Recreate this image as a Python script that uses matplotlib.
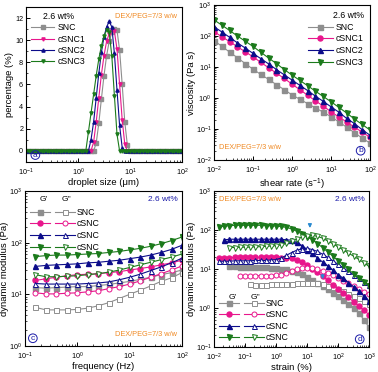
import numpy as np
import matplotlib
matplotlib.use("Agg")
import matplotlib.pyplot as plt

plt.rcParams['font.family'] = ['Liberation Sans', 'DejaVu Sans']
plt.rcParams['font.size'] = 6.5
plt.rcParams['mathtext.default'] = 'regular'

nan = np.nan
GRAY = '#8e8e8e'
PINK = '#e8168c'
NAVY = '#0c0c8a'
GREEN = '#1b7a1b'
ORANGE = '#f08a24'
TXTBLUE = '#1a1aa8'
ARROW = '#2a8ad0'

# ---------------- (a) droplet size distribution ----------------
droplet_size = np.logspace(-1, 2, 61)
pct_SNC = [0.0]*27 + [0.7, 2.5, 4.7, 6.8, 8.6, 9.9, 10.7, 11.0, 10.9, 9.1, 6.0, 2.6, 0.5] + [0.0]*21
pct_cSNC1 = [0.0]*26 + [0.8, 2.6, 4.8, 6.9, 8.6, 9.9, 10.6, 10.9, 10.8, 9.2, 6.0, 2.8, 0.6] + [0.0]*22
pct_cSNC2 = [0.0]*25 + [1.0, 2.6, 4.8, 7.0, 8.9, 10.3, 11.2, 11.7, 11.2, 8.8, 5.5, 2.3, 0.3] + [0.0]*23
pct_cSNC3 = [0.0]*24 + [1.7, 3.4, 5.1, 6.8, 8.3, 9.5, 10.4, 10.9, 10.7, 8.6, 5.0, 1.5] + [0.0]*25

# ---------------- (b) viscosity ----------------
shear_rate = np.logspace(-2, 2, 21)
visc_SNC = [70.8, 46.8, 30.2, 20.0, 12.9, 8.5, 5.75, 3.98, 2.69, 1.86, 1.26, 0.91, 0.66,
            0.48, 0.35, 0.25, 0.17, 0.115, 0.076, 0.051, 0.035]
visc_cSNC1 = [138, 95, 66, 45, 31, 21.4, 14.1, 9.5, 6.3, 4.3, 2.8, 1.86, 1.23, 0.81, 0.55,
              0.36, 0.245, 0.17, 0.115, 0.079, 0.054]
visc_cSNC2 = [200, 135, 91, 60, 41, 27.5, 18.6, 12.6, 8.3, 5.6, 3.8, 2.57, 1.74, 1.15, 0.78,
              0.52, 0.35, 0.22, 0.15, 0.095, 0.063]
visc_cSNC3 = [331, 224, 151, 100, 68, 46, 30, 19.5, 12.9, 8.3, 5.5, 3.7, 2.5, 1.66, 1.12,
              0.76, 0.50, 0.33, 0.21, 0.14, 0.093]

# ---------------- (c) frequency sweep ----------------
frequency = np.logspace(-0.8, 2, 15)
Gp_f_SNC = [13.5, 13.2, 13.5, 13.8, 14.1, 14.1, 14.8, 15.5, 16.6, 17.8, 19.5, 21.4, 24.0, 26.3, 29.5]
Gpp_f_SNC = [5.6, 5.0, 5.0, 5.0, 5.1, 5.4, 6.0, 6.9, 8.3, 10.0, 12.0, 14.5, 17.8, 20.9, 26.3]
Gp_f_cSNC1 = [18.6, 20.0, 21.4, 22.9, 24.0, 24.5, 25.1, 26.3, 27.5, 29.5, 31.6, 33.9, 37.2, 40.7, 45.7]
Gpp_f_cSNC1 = [10.7, 10.2, 10.2, 10.5, 10.7, 11.2, 11.7, 12.9, 14.1, 15.8, 18.2, 21.4, 25.1, 29.5, 35.5]
Gp_f_cSNC2 = [34.7, 36.3, 37.2, 38.0, 38.9, 40.7, 41.7, 43.7, 45.7, 49.0, 52.5, 57.5, 64.6, 74.1, 89.1]
Gpp_f_cSNC2 = [16.2, 15.8, 15.8, 15.8, 15.8, 16.2, 16.6, 17.4, 19.1, 21.4, 24.5, 28.8, 33.9, 40.7, 50.1]
Gp_f_cSNC3 = [53.7, 56.2, 57.5, 57.5, 58.9, 60.3, 61.7, 64.6, 67.6, 72.4, 77.6, 85.1, 95.5, 109.6, 128.8]
Gpp_f_cSNC3 = [24.0, 21.9, 21.9, 22.4, 22.9, 24.0, 25.1, 26.9, 29.5, 33.1, 37.2, 41.7, 46.8, 52.5, 60.3]

# ---------------- (d) strain sweep ----------------
strain = np.logspace(-2, 3, 31)
Gp_s_SNC = [nan]*3 + [12.0, 11.7, 11.5, 11.5, 11.2, 11.2, 11.0, 11.0, 10.7, 10.5, 10.2, 9.8, 9.1, 8.3,
                      7.4, 6.3, 5.2, 4.4, 3.6, 3.0, 2.45, 2.0, 1.62, 1.29, 1.02, 0.76, 0.50, 0.32]
Gpp_s_SNC = [nan]*7 + [4.1, 4.0, 4.0, 4.0, 4.1, 4.1, 4.1, 4.2, 4.2, 4.3, 4.4, 4.5, 4.5, 4.4, 4.1,
                       3.7, 3.4, 3.0, 2.7, 2.3, 2.0, 1.78, 1.51, 1.29]
Gp_s_cSNC1 = [nan] + [19.1, 19.5, 19.5, 20, 20, 20, 20, 20, 20, 20, 20, 20, 19.5, 19.1, 18.6, 17.0,
                      14.8, 12.6, 10.2, 8.3, 6.6, 5.1, 4.0, 3.1, 2.4, 1.86, 1.45, 1.12, 0.87, 0.68]
Gpp_s_cSNC1 = [nan]*5 + [6.6, 6.6, 6.6, 6.6, 6.8, 6.8, 6.8, 6.9, 7.2, 7.9, 8.9, 9.8, 10.5, 10.7,
                         10.5, 9.8, 8.9, 7.9, 6.9, 5.9, 5.0, 4.3, 3.6, 3.1, 2.6, 2.24]
Gp_s_cSNC2 = [nan]*2 + [56, 58, 58, 58, 58, 58, 58, 58, 58, 58, 58, 58, 56, 55, 48, 40, 31.6, 25.1,
                        19.5, 15.1, 12.0, 9.3, 7.2, 5.8, 4.5, 3.5, 2.75, 2.04, 1.51]
Gpp_s_cSNC2 = [nan] + [15.8, 15.8, 15.8, 16.2, 16.2, 16.2, 16.2, 16.6, 16.6, 16.6, 17.0, 17.4, 19.1,
                       22.4, 26.3, 30.2, 33.1, 33.9, 31.6, 28.2, 24.0, 20.0, 16.2, 13.2, 10.7, 8.7,
                       7.1, 5.75, 4.68, 3.8]
Gp_s_cSNC3 = [nan] + [120, 126, 129, 132, 132, 132, 132, 132, 132, 129, 129, 126, 123, 117, 107, 93,
                      79, 68, 56, 45, 35.5, 27.5, 21.4, 16.2, 12.6, 9.8, 7.6, 5.9, 4.7, 3.7]
Gpp_s_cSNC3 = [nan]*3 + [35.5, 35.5, 36.3, 36.3, 36.3, 37.2, 37.2, 38, 38.9, 39.8, 41.7, 45.7, 51.3,
                         58.9, 66, 70.8, 72.4, 69.2, 61.7, 52.5, 44.7, 37.2, 30.9, 25.7, 21.4, 17.8,
                         14.5, 11.7]

legend_ab = ['SNC', 'cSNC1', 'cSNC2', 'cSNC3']
legend_cd = ['SNC', 'cSNC', 'cSNC', 'cSNC']
colors = [GRAY, PINK, NAVY, GREEN]

fig = plt.figure(figsize=(3.78, 3.72), dpi=100)
W, H = 378.0, 372.0
def axes_px(l, t, r, b):
    return fig.add_axes([l / W, (H - b) / H, (r - l) / W, (b - t) / H])

axA = axes_px(26, 7, 182, 162)
axB = axes_px(214, 5, 370, 160)
axC = axes_px(25, 191, 182, 346)
axD = axes_px(214, 191, 369, 347)

def style(ax):
    ax.tick_params(which='both', direction='in', top=False, right=False, labelsize=5.2, pad=2.0)
    ax.tick_params(axis='x', which='both', pad=3.2)
    ax.tick_params(which='major', length=3, width=0.7)
    ax.tick_params(which='minor', length=1.5, width=0.5)
    for s in ax.spines.values():
        s.set_linewidth(0.8)

def panel_label(ax, x, y, letter):
    ax.text(x, y, letter, transform=ax.transAxes, color=TXTBLUE, fontsize=6,
            ha='center', va='center',
            bbox=dict(boxstyle='circle,pad=0.1', fc='none', ec=TXTBLUE, lw=0.7))

LBL = 6.8

# ---- (a)
pa_series = [pct_SNC, pct_cSNC1, pct_cSNC2, pct_cSNC3]
pa_markers = ['s', 'v', '^', 'v']
for vals, c, m, lab in zip(pa_series, colors, pa_markers, legend_ab):
    axA.plot(droplet_size, vals, color=c, marker=m, ms=2.3, lw=0.8, label=lab)
axA.set_xscale('log')
axA.set_xlim(0.1, 100)
axA.set_ylim(-1, 13)
axA.set_yticks([0, 2, 4, 6, 8, 10, 12])
axA.set_yticks(np.arange(-1, 14, 1), minor=True)
axA.set_xlabel('droplet size (μm)', fontsize=LBL, labelpad=0.5)
axA.set_ylabel('percentage (%)', fontsize=LBL, labelpad=1)
style(axA)
axA.legend(loc='upper left', bbox_to_anchor=(0.0, 1.0), frameon=False, fontsize=6.3,
           title='2.6 wt%', title_fontsize=6.3, handlelength=2.6, labelspacing=0.25,
           borderaxespad=0.2, handletextpad=0.4)
axA.text(0.97, 0.96, 'DEX/PEG=7/3 w/w', transform=axA.transAxes, color=ORANGE,
         fontsize=5.3, ha='right', va='top')
panel_label(axA, 0.06, 0.045, 'a')

# ---- (b)
pb_series = [visc_SNC, visc_cSNC1, visc_cSNC2, visc_cSNC3]
pb_markers = ['s', 'o', '^', 'v']
for vals, c, m, lab in zip(pb_series, colors, pb_markers, legend_ab):
    axB.plot(shear_rate, vals, color=c, marker=m, ms=3.6, lw=0.8, label=lab)
axB.set_xscale('log')
axB.set_yscale('log')
axB.set_xlim(1e-2, 1e2)
axB.set_ylim(1e-2, 1e3)
axB.set_xlabel('shear rate (s$^{-1}$)', fontsize=LBL, labelpad=0.5)
axB.set_ylabel('viscosity (Pa s)', fontsize=LBL, labelpad=0)
style(axB)
axB.legend(loc='upper right', frameon=False, fontsize=6.3, title='2.6 wt%', title_fontsize=6.3,
           handlelength=2.8, labelspacing=0.3, borderaxespad=0.3, handletextpad=0.4,
           alignment='right')
axB.text(0.03, 0.06, 'DEX/PEG=7/3 w/w', transform=axB.transAxes, color=ORANGE,
         fontsize=5.3, ha='left', va='bottom')
panel_label(axB, 0.94, 0.06, 'b')

# ---- (c)
Gp_f = [Gp_f_SNC, Gp_f_cSNC1, Gp_f_cSNC2, Gp_f_cSNC3]
Gpp_f = [Gpp_f_SNC, Gpp_f_cSNC1, Gpp_f_cSNC2, Gpp_f_cSNC3]
cd_markers = ['s', 'o', '^', 'v']
hf, ho = [], []
for gp, gpp, c, m in zip(Gp_f, Gpp_f, colors, cd_markers):
    l1, = axC.plot(frequency, gp, color=c, marker=m, ms=3.6, lw=0.8)
    l2, = axC.plot(frequency, gpp, color=c, marker=m, ms=3.6, lw=0.8, mfc='white', mew=0.7)
    hf.append(l1); ho.append(l2)
axC.set_xscale('log')
axC.set_yscale('log')
axC.set_xlim(1e-1, 1e2)
axC.set_ylim(1e0, 1e3)
axC.set_xlabel('frequency (Hz)', fontsize=LBL, labelpad=0.5)
axC.set_ylabel('dynamic modulus (Pa)', fontsize=LBL, labelpad=0)
style(axC)
axC.legend(hf + ho, ['']*4 + legend_cd, ncol=2, loc='upper left', bbox_to_anchor=(0.0, 0.925),
           frameon=False, fontsize=6.3, handlelength=2.3, labelspacing=0.3, columnspacing=0.3,
           handletextpad=0.2, borderaxespad=0.2)
axC.text(0.12, 0.925, "G'", transform=axC.transAxes, fontsize=6, ha='center', va='bottom')
axC.text(0.265, 0.925, "G''", transform=axC.transAxes, fontsize=6, ha='center', va='bottom')
axC.text(0.97, 0.97, '2.6 wt%', transform=axC.transAxes, color=TXTBLUE, fontsize=6,
         ha='right', va='top')
axC.text(0.97, 0.05, 'DEX/PEG=7/3 w/w', transform=axC.transAxes, color=ORANGE,
         fontsize=5.3, ha='right', va='bottom')
panel_label(axC, 0.05, 0.05, 'c')

# ---- (d)
Gp_s = [Gp_s_SNC, Gp_s_cSNC1, Gp_s_cSNC2, Gp_s_cSNC3]
Gpp_s = [Gpp_s_SNC, Gpp_s_cSNC1, Gpp_s_cSNC2, Gpp_s_cSNC3]
hf, ho = [], []
for gp, gpp, c, m in zip(Gp_s, Gpp_s, colors, cd_markers):
    l1, = axD.plot(strain, gp, color=c, marker=m, ms=3.6, lw=0.8)
    l2, = axD.plot(strain, gpp, color=c, marker=m, ms=3.6, lw=0.8, mfc='white', mew=0.7)
    hf.append(l1); ho.append(l2)
axD.set_xscale('log')
axD.set_yscale('log')
axD.set_xlim(1e-2, 1e3)
axD.set_ylim(1e-1, 1e3)
axD.set_xlabel('strain (%)', fontsize=LBL, labelpad=0.5)
axD.set_ylabel('dynamic modulus (Pa)', fontsize=LBL, labelpad=0)
style(axD)
axD.legend(hf + ho, ['']*4 + legend_cd, ncol=2, loc='lower left', bbox_to_anchor=(0.0, 0.0),
           frameon=False, fontsize=6.3, handlelength=2.3, labelspacing=0.25, columnspacing=0.3,
           handletextpad=0.2, borderaxespad=0.2)
axD.text(0.12, 0.295, "G'", transform=axD.transAxes, fontsize=6, ha='center', va='bottom')
axD.text(0.265, 0.295, "G''", transform=axD.transAxes, fontsize=6, ha='center', va='bottom')
axD.text(0.97, 0.97, '2.6 wt%', transform=axD.transAxes, color=TXTBLUE, fontsize=6,
         ha='right', va='top')
axD.text(0.03, 0.97, 'DEX/PEG=7/3 w/w', transform=axD.transAxes, color=ORANGE,
         fontsize=5.3, ha='left', va='top')
panel_label(axD, 0.94, 0.05, 'd')
axD.annotate('', xy=(12.4, 95), xytext=(12.4, 165),
             arrowprops=dict(arrowstyle='-|>', color=ARROW, lw=1.0, mutation_scale=5))
axD.annotate('', xy=(32, 4.6), xytext=(32, 8.5),
             arrowprops=dict(arrowstyle='-|>', color=ARROW, lw=1.0, mutation_scale=5))

fig.savefig('out.png', dpi=100)
